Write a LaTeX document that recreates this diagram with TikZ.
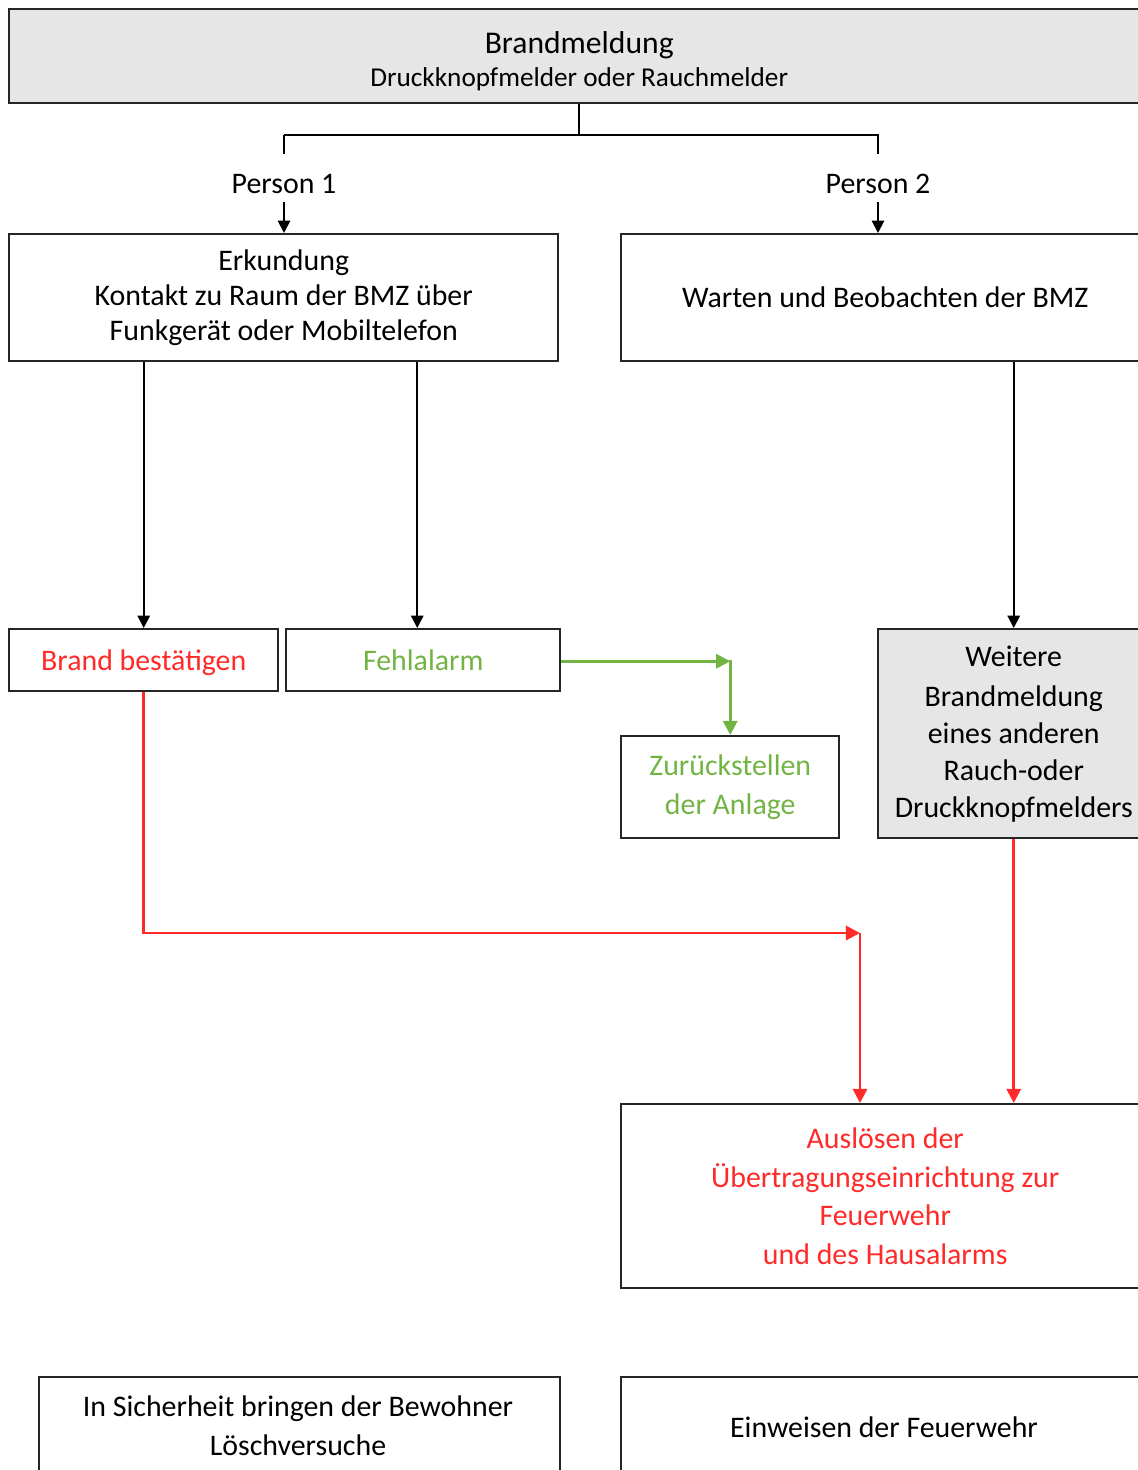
\documentclass[tikz,border=0pt]{standalone}
\usepackage{fontspec}
\setmainfont{Carlito}
\usetikzlibrary{arrows.meta,calc}
\newlength\pxu
\setlength\pxu{0.02cm}
\definecolor{boxgray}{HTML}{E6E6E6}
\definecolor{alarmred}{HTML}{FF2A2A}
\definecolor{okgreen}{HTML}{72B443}
\tikzset{
  box/.style={draw=black!85, line width=1.4pt, anchor=north west, inner sep=0pt, align=center,
    font=\fontsize{17}{20}\selectfont},
  graybox/.style={box, fill=boxgray},
  conn/.style={line width=1.1pt, draw=black},
  arr/.style={conn, -{Triangle[length=7pt,width=7pt]}},
  redarr/.style={line width=1.6pt, draw=alarmred, -{Triangle[length=8pt,width=8pt]}},
  greenarr/.style={line width=1.6pt, draw=okgreen, -{Triangle[length=8pt,width=8pt]}},
  lbl/.style={inner sep=0pt, font=\fontsize{17}{20}\selectfont}
}
\begin{document}
\begin{tikzpicture}[x=0.02cm, y=-0.02cm]
\useasboundingbox (0,0) rectangle (1137,1470);

% top
\node[graybox, minimum width=1140\pxu, minimum height=94\pxu] (top) at (8,8)
  {\rule{0pt}{18.5pt}\fontsize{18}{20}\selectfont Brandmeldung\\[-1pt]\fontsize{15.5}{18}\selectfont Druckknopfmelder oder Rauchmelder};

\node[lbl] (p1) at (284,184) {Person 1};
\node[lbl] (p2) at (878,184) {Person 2};

\node[box, minimum width=549\pxu, minimum height=127\pxu] (erk) at (8,233)
  {Erkundung\\Kontakt zu Raum der BMZ über\\Funkgerät oder Mobiltelefon};
\node[box, minimum width=528\pxu, minimum height=127\pxu] (wart) at (620,233)
  {Warten und Beobachten der BMZ};

\node[box, minimum width=269\pxu, minimum height=62\pxu, text=alarmred, text height=12pt, text depth=0pt] (brand) at (8,628)
  {Brand bestätigen};
\node[box, minimum width=274\pxu, minimum height=62\pxu, text=okgreen, text height=12pt, text depth=0pt] (fehl) at (285,628)
  {Fehlalarm};
\node[graybox, minimum width=271\pxu, minimum height=209\pxu] (weit) at (877,628)
  {Weitere\\[3pt]Brandmeldung\\[1pt]eines anderen\\[1pt]Rauch-oder\\[1pt]Druckknopfmelders};
\node[box, minimum width=218\pxu, minimum height=102\pxu, text=okgreen] (zur) at (620,735)
  {Zurückstellen\\[2pt]der Anlage};

\node[box, minimum width=528\pxu, minimum height=184\pxu, text=alarmred] (ausl) at (620,1103)
  {Auslösen der\\[2pt]Übertragungseinrichtung zur\\[2pt]Feuerwehr\\[2pt]und des Hausalarms};

\node[box, minimum width=521\pxu, minimum height=110\pxu] (sich) at (38,1376) {};
\node[lbl, align=center] (sicht) at (298,1426) {In Sicherheit bringen der Bewohner\\[2pt]Löschversuche};
\node[box, minimum width=528\pxu, minimum height=110\pxu] (einw) at (620,1376) {};
\node[lbl] (einwt) at (884,1427) {Einweisen der Feuerwehr};

% connectors
\coordinate (split) at ($(top.south)+(0,31)$);
\draw[conn] (top.south) -- (split);
\draw[conn] (split -| p1.north) -- ($(split -| p1.north)+(0,19)$);
\draw[conn] (split -| p1.north) -- (split -| p2.north) -- ($(split -| p2.north)+(0,19)$);
\draw[arr] ($(p1.south)+(0,8)$) -- (erk.north -| p1.south);
\draw[arr] ($(p2.south)+(0,8)$) -- (wart.north -| p2.south);

\draw[arr] (erk.south -| brand.north) -- (brand.north);
\draw[arr] ($(erk.south -| fehl.north)+(-6,0)$) -- ($(fehl.north)+(-6,0)$);
\draw[arr] (wart.south -| weit.north) -- (weit.north);

\coordinate (gturn) at (fehl.east -| zur.north);
\draw[greenarr] ($(fehl.east)+(0,1)$) -- ($(gturn)+(0,1)$);
\draw[greenarr] (gturn) -- (zur.north);

\coordinate (rturn) at (860,933);
\draw[redarr] (brand.south) |- (rturn);
\draw[redarr] (rturn) -- (rturn |- ausl.north);
\draw[redarr] (weit.south) -- (weit.south |- ausl.north);
\end{tikzpicture}
\end{document}
